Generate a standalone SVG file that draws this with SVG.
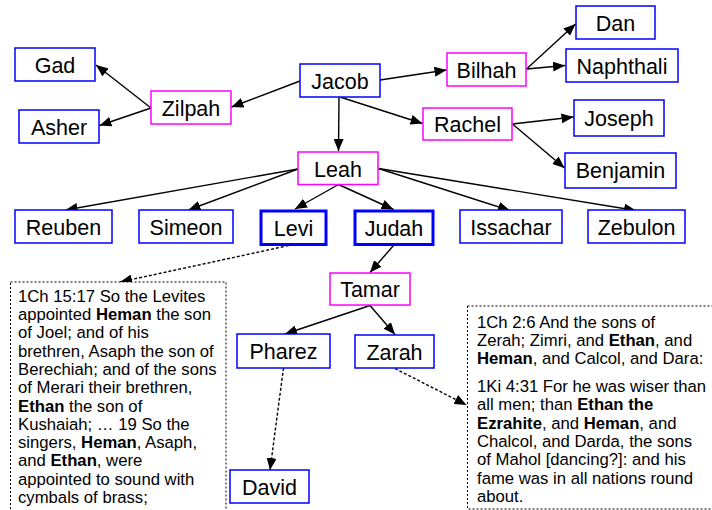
<svg xmlns="http://www.w3.org/2000/svg" width="712" height="510" viewBox="0 0 712 510">
<defs>
<marker id="ah" viewBox="0 0 12 10" refX="12" refY="5" markerWidth="12" markerHeight="10" markerUnits="userSpaceOnUse" orient="auto">
<path d="M0,0 L12,5 L0,10 z" fill="#000"/>
</marker>
<style>
.m rect{fill:#fff;stroke:#ff00ff;stroke-width:1.5}
.b rect{fill:#fff;stroke:#0000ff;stroke-width:1.5}
.bt rect{fill:#fff;stroke:#0000ff;stroke-width:3}
.n text{font-family:"Liberation Sans",Arial,sans-serif;font-size:21.5px;fill:#000;text-anchor:middle}
.note rect{fill:#fff;stroke:#000;stroke-width:1;stroke-dasharray:2,2}
.note text{font-family:"Liberation Sans",Arial,sans-serif;font-size:16.7px;fill:#000}
.note tspan.k{font-weight:bold}
#edges line{stroke:#000;stroke-width:1.4;marker-end:url(#ah)}
#edges line.d{stroke-dasharray:3,2}
</style>
</defs>
<rect width="712" height="510" fill="#fff"/>

<g id="edges">
<line x1="300" y1="81" x2="231.5" y2="107"/>
<line x1="151" y1="108" x2="96" y2="65"/>
<line x1="151" y1="108" x2="99.5" y2="125.5"/>
<line x1="339" y1="97" x2="338.5" y2="151"/>
<line x1="380" y1="80" x2="446.5" y2="70"/>
<line x1="340" y1="97" x2="422.5" y2="123.5"/>
<line x1="526.5" y1="69" x2="575.5" y2="24"/>
<line x1="526.5" y1="69" x2="565" y2="65.5"/>
<line x1="512.5" y1="124" x2="573.5" y2="117"/>
<line x1="512.5" y1="124" x2="564.5" y2="168"/>
<line x1="298" y1="169" x2="65.5" y2="210"/>
<line x1="298" y1="169" x2="188.5" y2="210"/>
<line x1="338.5" y1="184.5" x2="295" y2="209"/>
<line x1="338.5" y1="184.5" x2="393.5" y2="209.5"/>
<line x1="378.5" y1="168.5" x2="510" y2="210.5"/>
<line x1="378.5" y1="168.5" x2="636" y2="210.5"/>
<line x1="393.5" y1="245.5" x2="370" y2="272.5"/>
<line x1="370" y1="305.5" x2="285" y2="334"/>
<line x1="370" y1="305.5" x2="395" y2="334.5"/>
<line class="d" x1="283.5" y1="368" x2="270" y2="470"/>
<line class="d" x1="395" y1="368.5" x2="466.5" y2="405"/>
<line class="d" x1="293.5" y1="244.5" x2="120" y2="282"/>
</g>

<g id="Gad" class="n b"><rect x="15" y="48" width="80" height="33"/><text x="55" y="72.5">Gad</text></g>
<g id="Asher" class="n b"><rect x="19" y="110" width="80" height="33"/><text x="59" y="134.5">Asher</text></g>
<g id="Zilpah" class="n m"><rect x="151" y="91" width="80" height="33"/><text x="191" y="115.5">Zilpah</text></g>
<g id="Jacob" class="n b"><rect x="300" y="64" width="80" height="33"/><text x="340" y="88.5">Jacob</text></g>
<g id="Bilhah" class="n m"><rect x="447" y="53" width="79" height="33"/><text x="486.5" y="77.5">Bilhah</text></g>
<g id="Dan" class="n b"><rect x="576" y="6" width="79" height="33"/><text x="615.5" y="30.5">Dan</text></g>
<g id="Naphthali" class="n b"><rect x="566" y="49" width="112" height="33"/><text x="622" y="73.5">Naphthali</text></g>
<g id="Rachel" class="n m"><rect x="423" y="108" width="89" height="32"/><text x="467.5" y="132">Rachel</text></g>
<g id="Joseph" class="n b"><rect x="574" y="100" width="90" height="36"/><text x="619" y="125.5">Joseph</text></g>
<g id="Benjamin" class="n b"><rect x="565" y="153" width="111" height="35"/><text x="620.5" y="178">Benjamin</text></g>
<g id="Leah" class="n m"><rect x="298" y="152" width="80" height="32.5"/><text x="338" y="176.5">Leah</text></g>
<g id="Reuben" class="n b"><rect x="15" y="210" width="97" height="33"/><text x="63.5" y="234.5">Reuben</text></g>
<g id="Simeon" class="n b"><rect x="139" y="210" width="94" height="33"/><text x="186" y="234.5">Simeon</text></g>
<g id="Levi" class="n bt"><rect x="261" y="211" width="65" height="33.5"/><text x="293.5" y="235.5">Levi</text></g>
<g id="Judah" class="n bt"><rect x="355" y="211" width="78" height="33.5"/><text x="394" y="235.5">Judah</text></g>
<g id="Issachar" class="n b"><rect x="460" y="210" width="102" height="33"/><text x="511" y="234.5">Issachar</text></g>
<g id="Zebulon" class="n b"><rect x="588" y="210" width="97" height="33"/><text x="636.5" y="234.5">Zebulon</text></g>
<g id="Tamar" class="n m"><rect x="330" y="273" width="80" height="32"/><text x="370" y="297">Tamar</text></g>
<g id="Pharez" class="n b"><rect x="237" y="334" width="93" height="34"/><text x="283.5" y="359">Pharez</text></g>
<g id="Zarah" class="n b"><rect x="355" y="335" width="79" height="33"/><text x="394.5" y="359.5">Zarah</text></g>
<g id="David" class="n b"><rect x="230" y="470" width="79" height="33"/><text x="269.5" y="494.5">David</text></g>

<g id="noteLevi" class="note">
<rect x="10.5" y="282" width="215.5" height="240"/>
<text x="18" y="301.7">1Ch 15:17 So the Levites</text>
<text x="18" y="320">appointed <tspan class="k">Heman</tspan> the son</text>
<text x="18" y="338.3">of Joel; and of his</text>
<text x="18" y="356.6">brethren, Asaph the son of</text>
<text x="18" y="374.9">Berechiah; and of the sons</text>
<text x="18" y="393.2">of Merari their brethren,</text>
<text x="18" y="411.5"><tspan class="k">Ethan</tspan> the son of</text>
<text x="18" y="429.8">Kushaiah; … 19 So the</text>
<text x="18" y="448.1">singers, <tspan class="k">Heman</tspan>, Asaph,</text>
<text x="18" y="466.4">and <tspan class="k">Ethan</tspan>, were</text>
<text x="18" y="484.7">appointed to sound with</text>
<text x="18" y="503">cymbals of brass;</text>
</g>

<g id="noteZarah" class="note">
<rect x="467.5" y="306" width="260" height="203"/>
<text x="477" y="327.5">1Ch 2:6 And the sons of</text>
<text x="477" y="345.8">Zerah; Zimri, and <tspan class="k">Ethan</tspan>, and</text>
<text x="477" y="364.1"><tspan class="k">Heman</tspan>, and Calcol, and Dara:</text>
<text x="477" y="392">1Ki 4:31 For he was wiser than</text>
<text x="477" y="410.3">all men; than <tspan class="k">Ethan the</tspan></text>
<text x="477" y="428.6"><tspan class="k">Ezrahite</tspan>, and <tspan class="k">Heman</tspan>, and</text>
<text x="477" y="446.9">Chalcol, and Darda, the sons</text>
<text x="477" y="465.2">of Mahol [dancing?]: and his</text>
<text x="477" y="483.5">fame was in all nations round</text>
<text x="477" y="501.8">about.</text>
</g>
</svg>
